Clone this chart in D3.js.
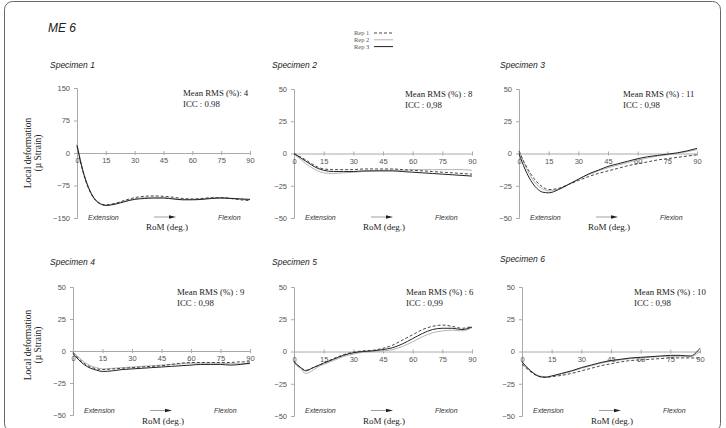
<!DOCTYPE html>
<html><head><meta charset="utf-8">
<script src="https://cdn.jsdelivr.net/npm/d3@7"></script>
<style>body{margin:0;background:#fff}svg{display:block}</style>
</head><body>
<svg id="c" width="726" height="428"></svg>
<script>
const figureTitle = "ME 6";
const repNames = ["Rep 1", "Rep 2", "Rep 3"];
const xDeg = [0,3,6,9,12,15,20,25,30,35,40,45,50,55,60,65,70,75,80,85,90];
const xTicks = [0,15,30,45,60,75,90];
const specimenNames = ["Specimen  1","Specimen  2","Specimen 3","Specimen 4","Specimen 5","Specimen 6"];
const yTicksBig = [150,75,0,-75,-150];
const yTicksSmall = [50,25,0,-25,-50];
const rmsLabels = ["Mean RMS (%): 4","Mean RMS (%) : 8","Mean RMS (%) : 11","Mean RMS (%) : 9","Mean RMS (%) :  6","Mean RMS (%) : 10"];
const iccLabels = ["ICC : 0.98","ICC : 0,98","ICC : 0,98","ICC : 0,98","ICC : 0,99","ICC : 0,98"];

// Specimen 1 (Rep1 dashed, Rep2 dotted grey, Rep3 solid)
const s1Rep1 = [15,-42,-82,-106,-117,-120,-116,-109,-103,-100,-99,-100,-102,-105,-106,-105,-103,-103,-105,-108,-110];
const s1Rep2 = [20,-38,-79,-104,-116,-120,-117,-111,-106,-103,-102,-103,-105,-107,-107,-106,-104,-103,-104,-106,-108];
const s1Rep3 = [18,-40,-80,-105,-117,-121,-118,-112,-107,-105,-104,-104,-106,-108,-108,-107,-105,-104,-105,-106,-107];
// Specimen 2
const s2Rep1 = [0,-2.5,-5,-8,-10.5,-12,-12.5,-12.5,-12.5,-12,-12,-12,-12,-12.5,-13,-13.5,-14,-14.5,-15,-15.5,-16];
const s2Rep2 = [-1,-4,-8,-11,-13.5,-15,-15.5,-15,-14.5,-14,-13.5,-13,-13,-13,-12.5,-12.5,-12.5,-12.5,-12.5,-12.5,-13];
const s2Rep3 = [0,-3,-6,-9,-11.5,-13,-14,-14,-14,-13.5,-13.5,-13.5,-13.5,-14,-14.5,-15,-15.5,-16,-16.5,-17,-17.5];
// Specimen 3
const s3Rep1 = [2,-8,-16,-22,-26,-28,-27,-24,-21,-18,-15.5,-13.5,-11.5,-9.5,-8,-6.5,-5,-4,-3,-2,-1];
const s3Rep2 = [3,-9,-18,-24,-27.5,-29,-27.5,-24,-20,-16.5,-13.5,-11,-9,-7,-5,-3.5,-2,-1,0,1.5,3];
const s3Rep3 = [0,-12,-21,-27,-30,-30.5,-28,-24,-20,-16,-13,-10,-8,-6,-4,-2.5,-1.5,-0.5,0.5,2,4];
// Specimen 4
const s4Rep1 = [-1,-6,-10,-12.5,-14,-14.5,-14,-13.5,-13,-12.5,-12,-11.5,-10.5,-9.5,-9,-9,-9,-9,-9,-8.5,-8.5];
const s4Rep2 = [-1,-5,-9,-11.5,-13,-14,-13.5,-13,-12.5,-12,-11.5,-11,-10.5,-10,-9.5,-9.5,-9.5,-9.5,-10,-10,-10];
const s4Rep3 = [-2,-7,-11,-13.5,-15,-16,-15.5,-14.5,-14,-13.5,-13,-12.5,-12,-11.5,-11,-10.5,-10.5,-10.5,-11,-10.5,-9.5];
// Specimen 5
const s5Rep1 = [-8,-12,-14.5,-13,-11,-9,-5.5,-2.5,-0.5,0.5,1,2.5,5,9,13,17,19.5,20.5,19.5,18,19.5];
const s5Rep2 = [-9,-13,-17,-15,-12,-10,-7,-4,-2,-0.5,0,0.5,1.5,4,7.5,11.5,14.5,16,16.5,16,18.5];
const s5Rep3 = [-8,-12,-15,-13,-11,-9,-6,-3,-1,0,0.5,1.5,3,6,10,14,17,18,18,17,19];
// Specimen 6
const s6Rep1 = [-10,-14,-17.5,-19.5,-20,-19.5,-18.5,-17,-15,-13,-11,-9.5,-8,-7,-6.5,-6,-5.5,-5,-5,-5,-5];
const s6Rep2 = [-9,-13.5,-17,-19,-19.5,-19,-17.5,-15.5,-13,-11,-9,-7.5,-6.5,-5.5,-5,-4.5,-4,-4,-4,-4,0];
const s6Rep3 = [-8,-13,-17,-19.5,-20,-19,-17,-15,-12.5,-10.5,-8.5,-7,-6,-5,-4.5,-4,-3.5,-3,-3,-3.5,2.5];

const specimenSeries = [
  [s1Rep1,s1Rep2,s1Rep3],[s2Rep1,s2Rep2,s2Rep3],[s3Rep1,s3Rep2,s3Rep3],
  [s4Rep1,s4Rep2,s4Rep3],[s5Rep1,s5Rep2,s5Rep3],[s6Rep1,s6Rep2,s6Rep3]
];

// layout (pixel boxes of each plot area)
const layout = [
  {x0:77, x1:250, top:88, bot:218, tx:50, ty:68, yl:true, big:true, rx:106, ext:1.5, rom:12, ylc:153},
  {x0:294,x1:472, top:89, bot:218, tx:272,ty:68, rx:111, ext:1.5, rom:12},
  {x0:519,x1:697, top:89, bot:218, tx:500,ty:68, rx:104, ext:1.5, rom:12},
  {x0:73, x1:250, top:287,bot:415, tx:50, ty:265, yl:true, rx:104, ext:-2, rom:9, ylc:345},
  {x0:294,x1:472, top:287,bot:416, tx:272,ty:265, rx:112, ext:-3, rom:8},
  {x0:522,x1:700, top:287,bot:416, tx:500,ty:262, rx:112, ext:-3, rom:8}
];

const svg = d3.select("#c");
svg.append("rect").attr("x",4.5).attr("y",1.5).attr("width",716).attr("height",430)
  .attr("rx",8).attr("fill","none").attr("stroke","#666").attr("stroke-width",1);

svg.append("text").attr("x",48).attr("y",32).text(figureTitle)
  .attr("font-family","Liberation Sans, Arial, sans-serif").attr("font-style","italic")
  .attr("font-size",12).attr("fill","#222");

// legend
const repStyle = [
  {stroke:"#333", dash:"3,2", width:0.9},
  {stroke:"#aaa", dash:null, width:0.9},
  {stroke:"#222", dash:null, width:1}
];
repNames.forEach((n,i)=>{
  const y = 35 + i*6.8;
  svg.append("text").attr("x",354).attr("y",y).text(n)
    .attr("font-family","Liberation Serif, Times New Roman, serif").attr("font-size",6.5).attr("fill","#555");
  svg.append("line").attr("x1",374).attr("x2",393).attr("y1",y-2).attr("y2",y-2)
    .attr("stroke",repStyle[i].stroke).attr("stroke-width",repStyle[i].width)
    .attr("stroke-dasharray",repStyle[i].dash);
});

const sans = "Liberation Sans, Arial, sans-serif";
const serif = "Liberation Serif, Times New Roman, serif";

layout.forEach((L,k)=>{
  const yTicks = L.big ? yTicksBig : yTicksSmall;
  const x = d3.scaleLinear().domain([0,90]).range([L.x0,L.x1]);
  const y = d3.scaleLinear().domain([yTicks[yTicks.length-1], yTicks[0]]).range([L.bot,L.top]);
  const g = svg.append("g");

  g.append("text").attr("x",L.tx).attr("y",L.ty).text(specimenNames[k])
    .attr("font-family",sans).attr("font-style","italic").attr("font-size",8.5).attr("fill","#222");

  const ya = g.append("g").attr("transform",`translate(${L.x0},0)`)
    .call(d3.axisLeft(y).tickValues(yTicks).tickSize(3).tickFormat(d3.format("d")));
  ya.select(".domain").attr("stroke","#aaa");
  ya.selectAll(".tick line").attr("stroke","#aaa");
  ya.selectAll(".tick text").attr("font-family",sans).attr("font-size",7.5).attr("fill","#555").attr("dx",-1);

  const xa = g.append("g").attr("transform",`translate(0,${y(0)})`)
    .call(d3.axisBottom(x).tickValues(xTicks).tickSizeInner(-2).tickSizeOuter(0).tickFormat(d3.format("d")));
  xa.select(".domain").attr("stroke","#aaa");
  xa.selectAll(".tick line").attr("stroke","#aaa").attr("y2",2).attr("y1",-2);
  xa.selectAll(".tick text").attr("font-family",sans).attr("font-size",7.5).attr("fill","#555").attr("dy","0.95em");

  const line = d3.line().x((d,i)=>x(xDeg[i])).y(d=>y(d)).curve(d3.curveMonotoneX);
  [1,0,2].forEach(r=>{
    g.append("path").attr("d",line(specimenSeries[k][r])).attr("fill","none")
      .attr("stroke",repStyle[r].stroke).attr("stroke-width",repStyle[r].width)
      .attr("stroke-dasharray",repStyle[r].dash);
  });

  g.append("text").attr("x",L.x0+L.rx).attr("y",L.top+8).text(rmsLabels[k])
    .attr("font-family",serif).attr("font-size",8.8).attr("fill","#222");
  g.append("text").attr("x",L.x0+L.rx).attr("y",L.top+18.5).text(iccLabels[k])
    .attr("font-family",serif).attr("font-size",8.8).attr("fill","#222");

  const by = L.bot + L.ext;
  g.append("text").attr("x",L.x0+11).attr("y",by).text("Extension")
    .attr("font-family",sans).attr("font-style","italic").attr("font-size",7).attr("fill","#333");
  g.append("text").attr("x",L.x0+141).attr("y",by).text("Flexion")
    .attr("font-family",sans).attr("font-style","italic").attr("font-size",7).attr("fill","#333");
  g.append("line").attr("x1",L.x0+77).attr("x2",L.x0+95).attr("y1",by-2.5).attr("y2",by-2.5)
    .attr("stroke","#888").attr("stroke-width",0.8);
  g.append("path").attr("d",`M${L.x0+92},${by-4.3}L${L.x0+99},${by-2.5}L${L.x0+92},${by-0.7}Z`).attr("fill","#222");
  g.append("text").attr("x",L.x0+90).attr("y",L.bot+L.rom).attr("text-anchor","middle").text("RoM (deg.)")
    .attr("font-family",serif).attr("font-size",9).attr("fill","#222");

  if (L.yl) {
    g.append("text").attr("transform",`translate(31,${L.ylc}) rotate(-90)`).attr("text-anchor","middle")
      .attr("font-family",serif).attr("font-size",9.5).attr("fill","#222").text("Local deformation");
    g.append("text").attr("transform",`translate(41,${L.ylc}) rotate(-90)`).attr("text-anchor","middle")
      .attr("font-family",serif).attr("font-size",9.5).attr("fill","#222").text("(µ Strain)");
  }
});
</script>
</body></html>
